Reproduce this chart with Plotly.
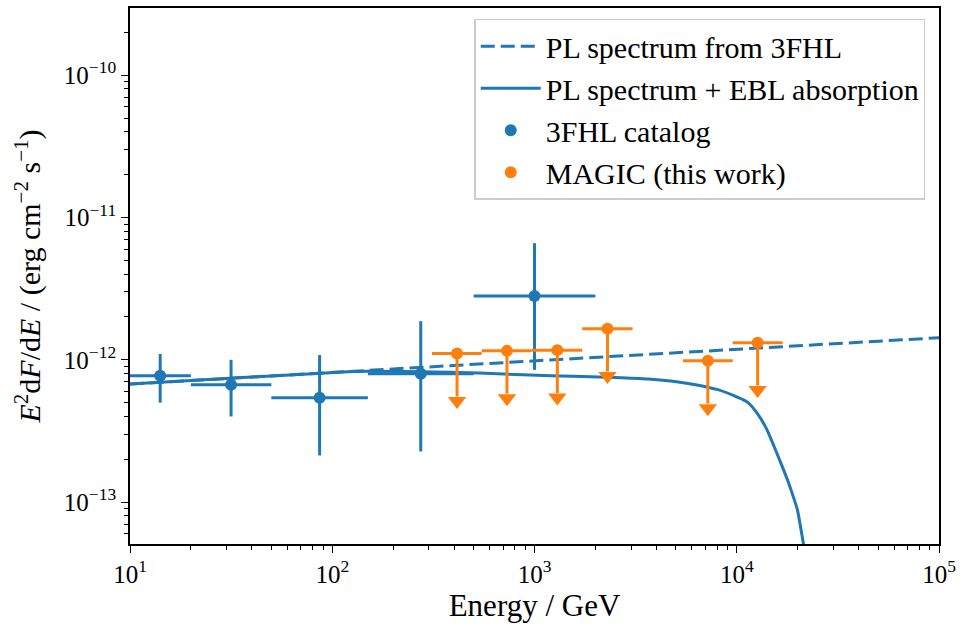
import plotly.graph_objects as go

# ---------------- data ----------------
# 3FHL catalog points (GeV, erg cm^-2 s^-1)
fhl_e = [14.1, 31.6, 86.6, 273.9, 1000.0]
fhl_e_lo = [10, 20, 50, 150, 500]
fhl_e_hi = [20, 50, 150, 500, 2000]
fhl_f = [7.73e-13, 6.68e-13, 5.42e-13, 7.98e-13, 2.81e-12]
fhl_f_lo = [5.0e-13, 4.0e-13, 2.13e-13, 2.27e-13, 8.5e-13]
fhl_f_hi = [1.1e-12, 1.0e-12, 1.08e-12, 1.87e-12, 6.6e-12]

# MAGIC upper limits
magic_e = [414, 731, 1297, 2296, 7194, 12680]
magic_e_lo = [311, 548, 966, 1722, 5420, 9550]
magic_e_hi = [548, 966, 1722, 3055, 9550, 16860]
magic_ul = [1.106e-12, 1.156e-12, 1.17e-12, 1.655e-12, 9.84e-13, 1.32e-12]
ul_lower_frac = 0.5

# PL spectrum from 3FHL (straight line in log-log)
pl_e = [10, 1e5]
pl_f = [6.76e-13, 1.43e-12]

# PL spectrum + EBL absorption
ebl_e = [10, 50, 108, 150, 268, 530, 1213, 2500, 3648, 5745, 8060, 10110,
         11330, 12680, 14000, 15340, 16600, 17830, 19000, 19960, 21380, 22390]
ebl_f = [6.76e-13, 7.70e-13, 8.17e-13, 8.3e-13, 8.25e-13, 8.07e-13, 7.73e-13,
         7.52e-13, 7.33e-13, 6.83e-13, 6.17e-13, 5.45e-13, 5.02e-13, 4.17e-13,
         3.3e-13, 2.44e-13, 1.85e-13, 1.43e-13, 1.1e-13, 8.8e-14, 5.08e-14, 3.5e-14]

x_tickvals = [10, 100, 1000, 10000, 100000]
x_ticktext = ["10<sup>1</sup>", "10<sup>2</sup>", "10<sup>3</sup>", "10<sup>4</sup>", "10<sup>5</sup>"]
y_tickvals = [1e-13, 1e-12, 1e-11, 1e-10]
y_ticktext = ["10<sup>−13</sup>", "10<sup>−12</sup>", "10<sup>−11</sup>", "10<sup>−10</sup>"]

BLUE = "#1f77b4"
ORANGE = "#ff7f0e"
FONT = "Liberation Serif, DejaVu Serif, serif"

fig = go.Figure()

fig.add_trace(go.Scatter(
    x=pl_e, y=pl_f, mode="lines", name="PL spectrum from 3FHL",
    line=dict(color=BLUE, width=3, dash="14px,6px")))
fig.add_trace(go.Scatter(
    x=ebl_e, y=ebl_f, mode="lines", name="PL spectrum + EBL absorption",
    line=dict(color=BLUE, width=3, shape="spline", smoothing=0.6)))

fig.add_trace(go.Scatter(
    x=fhl_e, y=fhl_f, mode="markers", name="3FHL catalog",
    marker=dict(color=BLUE, size=12),
    error_x=dict(type="data", symmetric=False,
                 array=[h - e for h, e in zip(fhl_e_hi, fhl_e)],
                 arrayminus=[e - l for e, l in zip(fhl_e, fhl_e_lo)],
                 color=BLUE, thickness=3, width=0),
    error_y=dict(type="data", symmetric=False,
                 array=[h - f for h, f in zip(fhl_f_hi, fhl_f)],
                 arrayminus=[f - l for f, l in zip(fhl_f, fhl_f_lo)],
                 color=BLUE, thickness=3, width=0)))

magic_lower = [u * ul_lower_frac for u in magic_ul]
fig.add_trace(go.Scatter(
    x=magic_e, y=[l * 0.93 for l in magic_lower], mode="markers",
    showlegend=False, hoverinfo="skip",
    marker=dict(color=ORANGE, size=16, symbol="triangle-down", line=dict(width=0))))
fig.add_trace(go.Scatter(
    x=magic_e, y=magic_ul, mode="markers", name="MAGIC (this work)",
    marker=dict(color=ORANGE, size=12),
    error_x=dict(type="data", symmetric=False,
                 array=[h - e for h, e in zip(magic_e_hi, magic_e)],
                 arrayminus=[e - l for e, l in zip(magic_e, magic_e_lo)],
                 color=ORANGE, thickness=3, width=0),
    error_y=dict(type="data", symmetric=False,
                 array=[0] * len(magic_ul),
                 arrayminus=[u - l for u, l in zip(magic_ul, magic_lower)],
                 color=ORANGE, thickness=3, width=0)))

minor_x = [m * 10 ** k for k in range(1, 5) for m in range(2, 10)]
minor_y = [m * 10.0 ** k for k in range(-14, -9) for m in range(2, 10)]

axis_common = dict(
    type="log", showgrid=False, zeroline=False,
    showline=True, linecolor="black", linewidth=1.6, mirror=True,
    ticks="outside", ticklen=7, tickwidth=1.3, tickcolor="black",
    tickfont=dict(family=FONT, size=25, color="black"),
)

fig.update_xaxes(
    **axis_common, range=[1, 5], tickmode="array",
    tickvals=x_tickvals, ticktext=x_ticktext,
    minor=dict(tickmode="array", tickvals=minor_x, ticks="outside",
               ticklen=4, tickwidth=1, tickcolor="black", showgrid=False),
    title=dict(text="Energy / GeV", font=dict(family=FONT, size=31, color="black"),
               standoff=8))
fig.update_yaxes(
    **axis_common, range=[-13.294, -9.528], tickmode="array",
    tickvals=y_tickvals, ticktext=y_ticktext,
    minor=dict(tickmode="array", tickvals=minor_y, ticks="outside",
               ticklen=4, tickwidth=1, tickcolor="black", showgrid=False),
    title=dict(text="<i>E</i><sup>2</sup>d<i>F</i>/d<i>E</i> / (erg cm<sup>−2</sup> s<sup>−1</sup>)",
               font=dict(family=FONT, size=30, color="black"), standoff=14))

fig.update_layout(
    width=962, height=630,
    margin=dict(l=130, r=20, t=6, b=86),
    plot_bgcolor="white", paper_bgcolor="white",
    font=dict(family=FONT, color="black"),
    legend=dict(x=0.983, y=0.98, xanchor="right", yanchor="top",
                bgcolor="rgba(255,255,255,0.8)", bordercolor="#cccccc", borderwidth=1.5,
                font=dict(family=FONT, size=30, color="black"),
                itemwidth=60, tracegroupgap=0),
)

fig.write_html("out.html")
